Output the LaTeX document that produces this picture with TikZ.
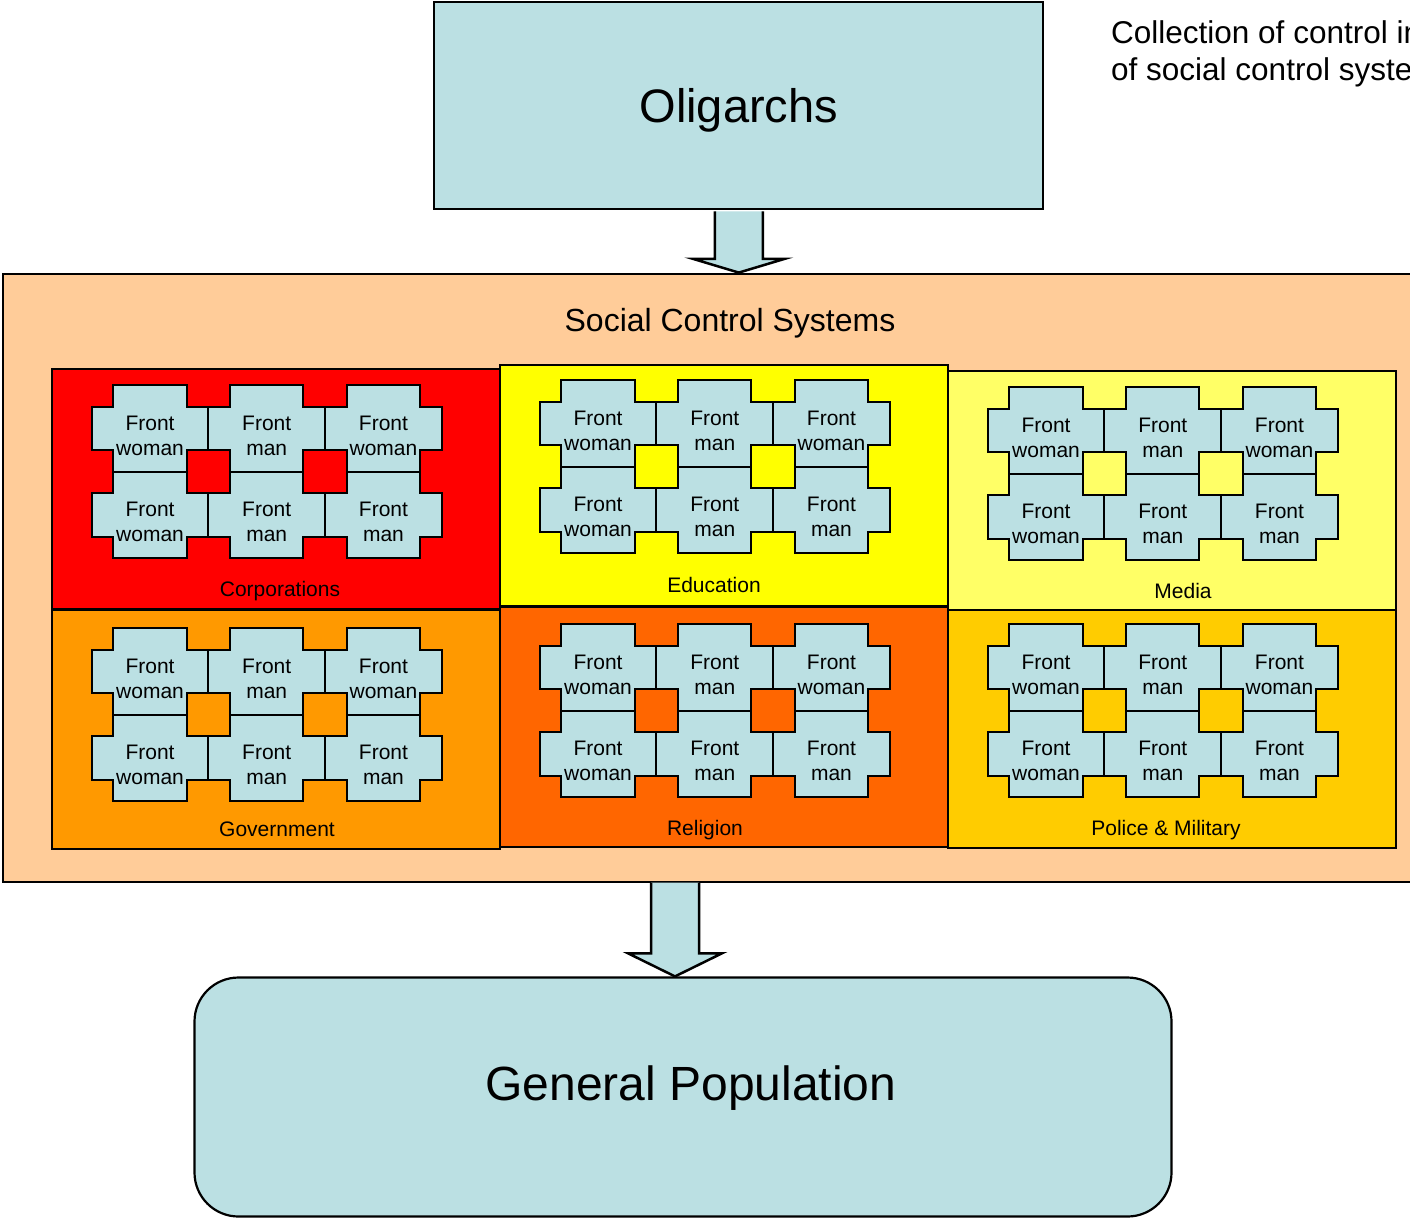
\documentclass[tikz,border=0pt]{standalone}
\usepackage{fontspec}
\setmainfont{Liberation Sans}
\usetikzlibrary{calc}
\definecolor{pieceblue}{HTML}{BBE0E3}
\definecolor{peach}{HTML}{FFCC99}
\definecolor{corpred}{HTML}{FF0000}
\definecolor{eduyellow}{HTML}{FFFF00}
\definecolor{medyellow}{HTML}{FFFF66}
\definecolor{govorange}{HTML}{FF9900}
\definecolor{relorange}{HTML}{FF6600}
\definecolor{polgold}{HTML}{FFCC00}
\newcommand\mypuzzle[4]{%
  \draw[piece] (#2+21.7,#3) -- ++(73.3,0) -- ++(0,21.7) -- ++(21.7,0) -- ++(0,43.3) -- ++(-21.7,0) -- ++(0,21.7) -- ++(-73.3,0) -- ++(0,-21.7) -- ++(-21.7,0) -- ++(0,-43.3) -- ++(21.7,0) -- cycle;
  \node[ptext] (#1) at (#2+58.35,#3+50.5) {#4};
}
\newcommand\mypieces[3]{%
  \mypuzzle{#1-11}{#2}{#3}{Front\\woman}
  \mypuzzle{#1-12}{#2+116.7}{#3}{Front\\man}
  \mypuzzle{#1-13}{#2+233.4}{#3}{Front\\woman}
  \mypuzzle{#1-21}{#2}{#3+86.7}{Front\\woman}
  \mypuzzle{#1-22}{#2+116.7}{#3+86.7}{Front\\man}
  \mypuzzle{#1-23}{#2+233.4}{#3+86.7}{Front\\man}
}
\begin{document}
\begin{tikzpicture}[x=1pt,y=-1pt,line join=miter,
  piece/.style={draw=black,fill=pieceblue,line width=2pt},
  ptext/.style={font=\fontsize{21}{25}\selectfont,align=center,inner sep=0pt},
  block/.style={draw=black,line width=2pt,anchor=north west,inner sep=0pt},
  blabel/.style={font=\fontsize{21}{25}\selectfont,anchor=base,inner sep=0pt},
  bigbox/.style={draw=black,fill=pieceblue,line width=2.2pt,inner sep=0pt},
  bigarrow/.style={draw=black,fill=pieceblue,line width=2.5pt}]
\clip (0,0) rectangle (1410,1218);
\fill[white] (0,0) rectangle (1410,1218);

% top box
\node[bigbox,minimum width=609pt,minimum height=207pt,text depth=0pt,
      font=\fontsize{47}{50}\selectfont] (olig) at (738.8,105.8) {Oligarchs};

% note (cut off at the right edge, as in the reference)
\node[anchor=north west,align=left,inner sep=0pt,font=\fontsize{31.5}{37}\selectfont]
  (note) at (1111,20) {Collection of control in\\of social control systems};

% outer box
\node[draw=black,fill=peach,line width=2pt,inner sep=0pt,
      minimum width=1417pt,minimum height=608pt] (scs) at (711.5,577.6) {};
\node[anchor=base,inner sep=0pt,font=\fontsize{32}{36}\selectfont] (scstitle) at (730,331) {Social Control Systems};

% blocks
\node[block,fill=corpred,minimum width=448pt,minimum height=240pt] (corp) at (51,368) {};
\node[block,fill=govorange,minimum width=448pt,minimum height=239pt] (gov) at (51,609) {};
\node[block,fill=relorange,minimum width=448pt,minimum height=240pt] (rel) at (499,606) {};
\node[block,fill=eduyellow,minimum width=448pt,minimum height=241pt] (edu) at (499,364) {};
\node[block,fill=polgold,minimum width=448pt,minimum height=238pt] (pol) at (947,609) {};
\node[block,fill=medyellow,minimum width=448pt,minimum height=239pt] (med) at (947,370) {};

\mypieces{corp}{91.7}{385}
\mypieces{edu}{539.7}{380}
\mypieces{med}{987.7}{387}
\mypieces{gov}{91.7}{628}
\mypieces{rel}{539.7}{624}
\mypieces{pol}{987.7}{624}

\node[blabel] (corplabel) at (280,596) {Corporations};
\node[blabel] (edulabel) at (714,592) {Education};
\node[blabel] (medlabel) at (1183,598) {Media};
\node[blabel] (govlabel) at (277,836) {Government};
\node[blabel] (rellabel) at (705,835) {Religion};
\node[blabel] (pollabel) at (1166,835) {Police \& Military};

% bottom box
\node[bigbox,rounded corners=44pt,minimum width=977pt,minimum height=239pt] (genpop) at (683,1097) {};
\node[anchor=base,inner sep=0pt,font=\fontsize{48}{52}\selectfont] (genpoptext) at (691,1100) {General Population};

% block arrows
\draw[bigarrow] ($(olig.south)+(-24,1)$) -- ($(olig.south)+(-24,48.4)$) -- ($(olig.south)+(-46,48.4)$)
  -- (olig.south |- scs.north) -- ($(olig.south)+(46,48.4)$) -- ($(olig.south)+(24,48.4)$) -- ($(olig.south)+(24,1)$);
\coordinate (a2) at (675,882.7);
\draw[bigarrow] ($(a2)+(-24,0)$) -- ($(a2)+(-24,70.6)$) -- ($(a2)+(-47,70.6)$)
  -- (a2 |- genpop.north) -- ($(a2)+(47,70.6)$) -- ($(a2)+(24,70.6)$) -- ($(a2)+(24,0)$);
\end{tikzpicture}
\end{document}
